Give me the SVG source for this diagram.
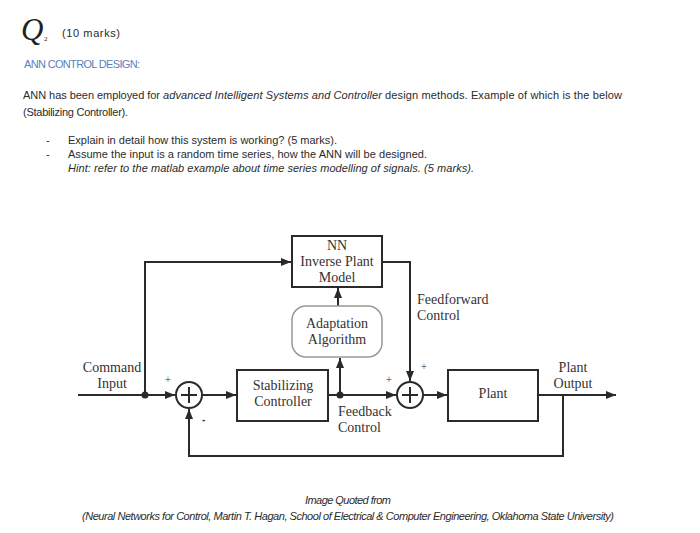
<svg xmlns="http://www.w3.org/2000/svg" width="700" height="533" viewBox="0 0 700 533">
<defs>
<marker id="ah" viewBox="0 0 10 10" refX="10" refY="5" markerWidth="10" markerHeight="10" markerUnits="userSpaceOnUse" orient="auto">
<path d="M0,1 L10,5 L0,9 z" fill="#2a2a2a"/>
</marker>
<style>
.doc{font-family:"Liberation Sans",Arial,sans-serif;font-size:11px;fill:#2b2b2b}
.it{font-style:italic}
.lab{font-family:"Liberation Serif","Times New Roman",serif;font-size:14px;fill:#333}
.box{fill:#fff;stroke:#2a2a2a;stroke-width:2}
.ln{fill:none;stroke:#2a2a2a;stroke-width:2}
.sg{font-family:"Liberation Sans",Arial,sans-serif;font-size:10px;fill:#777}
</style>
</defs>
<rect width="700" height="533" fill="#fff"/>
<g id="header">
<text x="21" y="40" font-family="Liberation Serif,serif" font-style="italic" font-size="31" fill="#222">Q</text>
<text x="44" y="41" font-family="Liberation Serif,serif" font-size="7" fill="#222">2</text>
<text x="62" y="37" class="doc" font-size="13" textLength="58">(10 marks)</text>
<text x="24" y="68" class="doc" style="fill:#5a7fbf" textLength="116">ANN CONTROL DESIGN:</text>
<text x="23" y="99" class="doc" textLength="137">ANN has been employed for</text>
<text x="163" y="99" class="doc it" textLength="219">advanced Intelligent Systems and Controller</text>
<text x="385" y="99" class="doc" textLength="237">design methods.  Example of which is the below</text>
<text x="23" y="116" class="doc" textLength="105">(Stabilizing Controller).</text>
<text x="46" y="144" class="doc">-</text>
<text x="46" y="158" class="doc">-</text>
<text x="68" y="144" class="doc" textLength="269">Explain in detail how this system is working? (5 marks).</text>
<text x="68" y="158" class="doc" textLength="359">Assume the input is a random time series, how the ANN will be designed.</text>
<text x="68" y="172" class="doc it" textLength="406">Hint: refer to the matlab example about time series modelling of signals. (5 marks).</text>
</g>
<g id="connectors">
<line x1="78" y1="395" x2="175" y2="395" class="ln" marker-end="url(#ah)"/>
<polyline points="145,395 145,262 291,262" class="ln" marker-end="url(#ah)"/>
<line x1="202" y1="395" x2="236" y2="395" class="ln" marker-end="url(#ah)"/>
<line x1="328" y1="395" x2="396" y2="395" class="ln" marker-end="url(#ah)"/>
<line x1="340" y1="395" x2="340" y2="358" class="ln" marker-end="url(#ah)"/>
<line x1="338" y1="306" x2="338" y2="288" class="ln" marker-end="url(#ah)"/>
<polyline points="382,262 410,262 410,381" class="ln" marker-end="url(#ah)"/>
<line x1="423" y1="395" x2="447" y2="395" class="ln" marker-end="url(#ah)"/>
<line x1="538" y1="395" x2="616" y2="395" class="ln" marker-end="url(#ah)"/>
<polyline points="563,395 563,456 189,456 189,409" class="ln" marker-end="url(#ah)"/>
<circle cx="145" cy="395" r="3.5" fill="#2a2a2a"/>
<circle cx="340" cy="395" r="3.5" fill="#2a2a2a"/>
</g>
<g id="nn">
<rect x="292" y="236" width="90" height="51" class="box"/>
<text class="lab" text-anchor="middle"><tspan x="337" y="250">NN</tspan><tspan x="337" y="266">Inverse Plant</tspan><tspan x="337" y="282">Model</tspan></text>
</g>
<g id="adapt">
<rect x="292" y="306" width="90" height="51" rx="14" fill="#fff" stroke="#999" stroke-width="1.5"/>
<text class="lab" text-anchor="middle"><tspan x="337" y="328">Adaptation</tspan><tspan x="337" y="344">Algorithm</tspan></text>
</g>
<g id="sum1">
<circle cx="189" cy="395" r="13" class="box"/>
<path d="M181,395 H197 M189,387 V403" class="ln" stroke-width="1.5"/>
<text x="165" y="383" class="sg">+</text>
<text x="202" y="423" class="sg" font-size="13" font-weight="bold" style="fill:#333">-</text>
</g>
<g id="stab">
<rect x="237" y="370" width="91" height="51" class="box"/>
<text class="lab" text-anchor="middle"><tspan x="283" y="390">Stabilizing</tspan><tspan x="283" y="406">Controller</tspan></text>
</g>
<g id="sum2">
<circle cx="410" cy="395" r="13" class="box"/>
<path d="M402,395 H418 M410,387 V403" class="ln" stroke-width="1.5"/>
<text x="386" y="383" class="sg">+</text>
<text x="421" y="370" class="sg">+</text>
</g>
<g id="plant">
<rect x="448" y="370" width="90" height="51" class="box"/>
<text x="493" y="398" class="lab" text-anchor="middle">Plant</text>
</g>
<g id="labels">
<text class="lab" text-anchor="middle"><tspan x="112" y="372">Command</tspan><tspan x="112" y="388">Input</tspan></text>
<text class="lab" text-anchor="middle"><tspan x="573" y="372">Plant</tspan><tspan x="573" y="388">Output</tspan></text>
<text class="lab"><tspan x="417" y="304">Feedforward</tspan><tspan x="417" y="320">Control</tspan></text>
<text class="lab"><tspan x="338" y="416">Feedback</tspan><tspan x="338" y="432">Control</tspan></text>
</g>
<g id="footer">
<text x="348" y="504" class="doc it" font-size="10" text-anchor="middle" textLength="86">Image Quoted from</text>
<text x="82" y="520" class="doc it" font-size="10" textLength="532">(Neural Networks for Control, Martin T. Hagan, School of Electrical &amp; Computer Engineering, Oklahoma State University)</text>
</g>
</svg>
